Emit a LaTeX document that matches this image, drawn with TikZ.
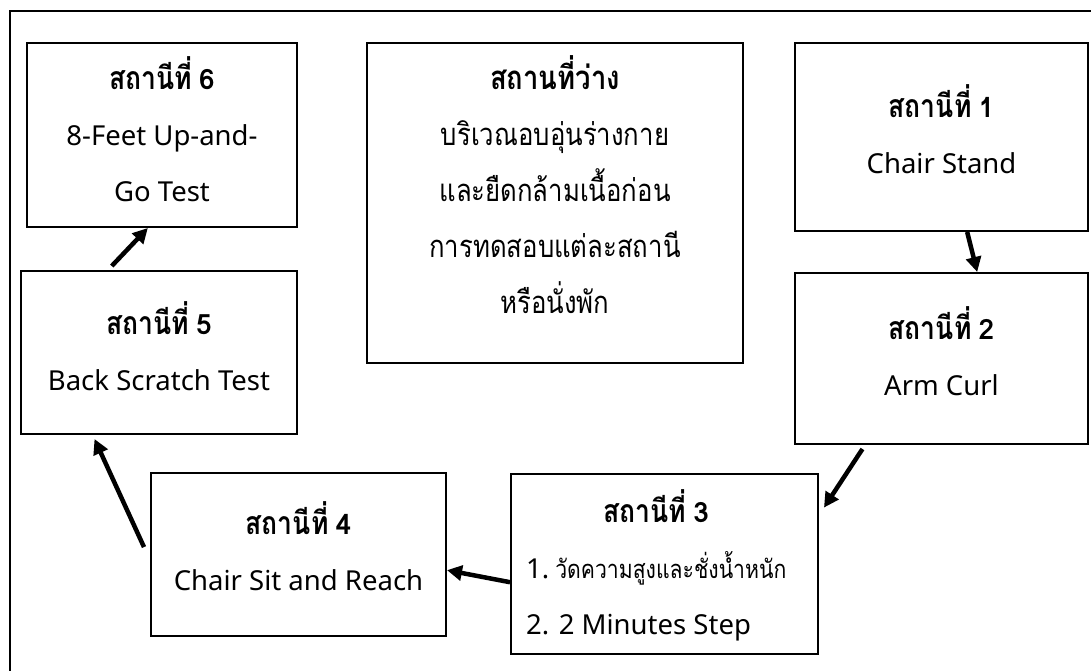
\documentclass[tikz,border=0pt]{standalone}
\usepackage{fontspec}
\setmainfont{Noto Sans}
\newfontfamily\thai[Script=Thai, FakeStretch=0.83]{Loma}
\newfontfamily\thaidig[Script=Thai]{Loma}
\usetikzlibrary{arrows.meta,calc}
\newcommand\thtxt[1]{{\thai\fontsize{31}{56}\selectfont #1}}
\tikzset{
  box/.style={draw, line width=2pt, rectangle, inner sep=0pt},
  txt/.style={anchor=base, inner sep=0pt, font=\fontsize{27.5}{56}\selectfont},
  arr/.style={line width=4.5pt, -{Triangle[length=15pt,width=15pt]}},
}
\newcommand\ttl[2]{{\bfseries{\thai\fontsize{32}{56}\selectfont #1} {\thaidig\fontsize{28}{56}\selectfont #2}}}
\begin{document}
\begin{tikzpicture}[x=1pt,y=-1pt]
\useasboundingbox (0,0) rectangle (1091,671);
\draw[line width=2pt] (1100,11) -- (10,11) -- (10,680);
% boxes
\node[box, minimum width=270pt, minimum height=184pt] (b6) at (162,135) {};
\node[box, minimum width=276pt, minimum height=163pt] (b5) at (159,352.5) {};
\node[box, minimum width=376pt, minimum height=320pt] (c) at (555,203) {};
\node[box, minimum width=293pt, minimum height=188pt] (b1) at (941.5,137) {};
\node[box, minimum width=293pt, minimum height=171pt] (b2) at (941.5,358.5) {};
\node[box, minimum width=295pt, minimum height=163pt] (b4) at (298.5,554.5) {};
\node[box, minimum width=307pt, minimum height=180pt] (b3) at (664.5,564) {};
% texts
\node[txt] (t6) at (162,90) {\begin{tabular}[t]{@{}c@{}}\ttl{สถานีที่}{6}\\ 8-Feet Up-and-\\ Go Test\end{tabular}};
\node[txt] (t5) at (159,334) {\begin{tabular}[t]{@{}c@{}}\ttl{สถานีที่}{5}\\ Back Scratch Test\end{tabular}};
\node[txt] (tc) at (555,90) {\begin{tabular}[t]{@{}c@{}}{\bfseries\thai\fontsize{33}{56}\selectfont สถานที่ว่าง}\\ \thtxt{บริเวณอบอุ่นร่างกาย}\\ \thtxt{และยืดกล้ามเนื้อก่อน}\\ \thtxt{การทดสอบแต่ละสถานี}\\ \thtxt{หรือนั่งพัก}\end{tabular}};
\node[txt] (t1) at (941.5,118) {\begin{tabular}[t]{@{}c@{}}\ttl{สถานีที่}{1}\\ Chair Stand\end{tabular}};
\node[txt] (t2) at (941.5,339) {\begin{tabular}[t]{@{}c@{}}\ttl{สถานีที่}{2}\\ Arm Curl\end{tabular}};
\node[txt] (t4) at (298.5,534) {\begin{tabular}[t]{@{}c@{}}\ttl{สถานีที่}{4}\\ Chair Sit and Reach\end{tabular}};
\node[txt, anchor=base west] (t3) at (526,522) {\begin{tabular}[t]{@{}l@{}}\multicolumn{1}{@{}c@{}}{\ttl{สถานีที่}{3}}\\ 1.\hspace{6pt}{\thai\fontsize{25.5}{56}\selectfont วัดความสูงและชั่งน้ำหนัก}\\ 2. 2 Minutes Step\end{tabular}};
% arrows
\draw[arr] ($(b1.south west)!0.587!(b1.south east)$) -- ($(b2.north west)!0.621!(b2.north east)$);
\draw[arr] ($(b2.south west)!0.232!(b2.south east)+(0,4)$) -- ($(b3.north east)!0.19!(b3.south east)+(5,0)$);
\draw[arr] ($(b3.north west)!0.6!(b3.south west)$) -- ($(b4.north east)!0.595!(b4.south east)$);
\draw[arr] ($(b4.north west)!0.455!(b4.south west)+(-6,0)$) -- ($(b5.south west)!0.268!(b5.south east)+(0,4)$);
\draw[arr] ($(b5.north west)!0.33!(b5.north east)+(0,-4)$) -- ($(b6.south west)!0.448!(b6.south east)$);
\end{tikzpicture}
\end{document}
